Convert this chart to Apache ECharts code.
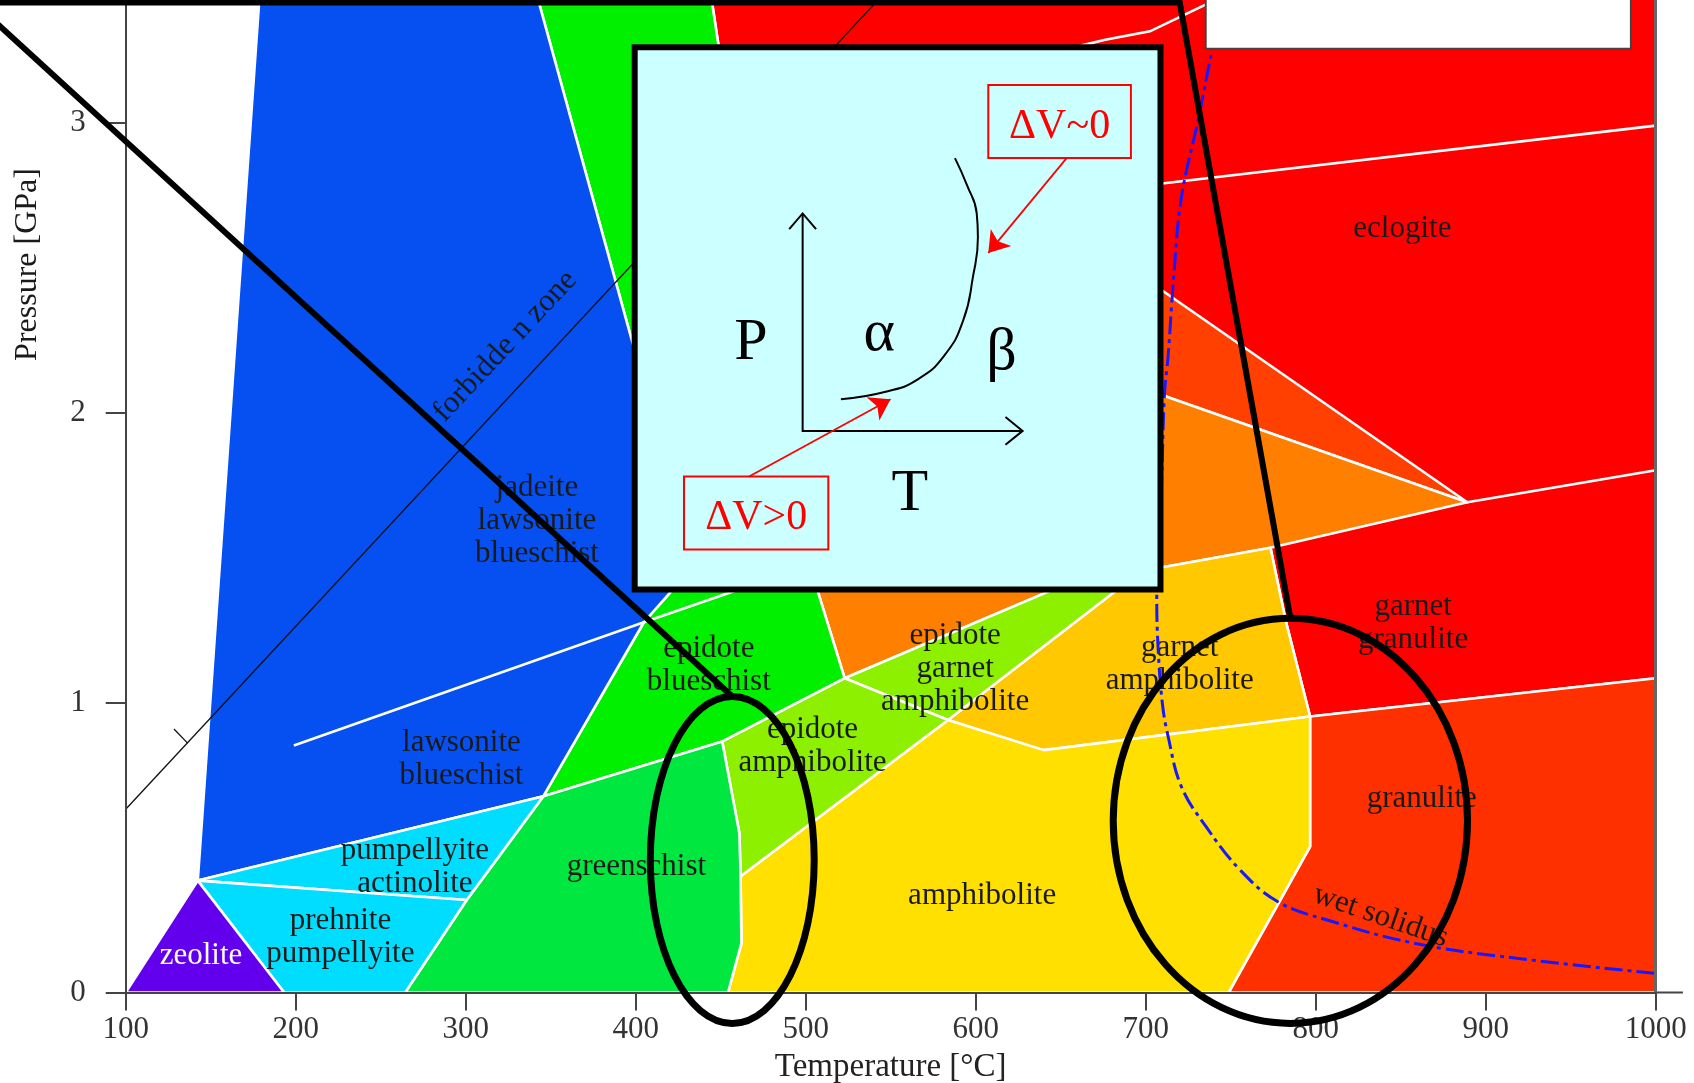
<!DOCTYPE html>
<html>
<head>
<meta charset="utf-8">
<title>Metamorphic facies</title>
<script src="https://cdn.jsdelivr.net/npm/echarts@6.0.0/dist/echarts.min.js"></script>
<style>
  html, body { margin: 0; padding: 0; background: #ffffff; }
  #chart { width: 1694px; height: 1083px; }
</style>
</head>
<body>
<div id="chart"></div>
<script>
const tempTicks = [100, 200, 300, 400, 500, 600, 700, 800, 900, 1000];
const pressureTicks = [0, 1, 2, 3];

// facies fields, every point is [temperature °C, pressure GPa]
const zeolite = [[100, 0], [142.4, 0.386], [193.2, 0]];
const prehnitePumpellyite = [[142.4, 0.386], [300.6, 0.319], [264.4, 0], [193.2, 0]];
const pumpellyiteActinolite = [[142.4, 0.386], [345.7, 0.677], [300.6, 0.319]];
const blueschist = [[178.9, 3.45], [341.4, 3.45], [397.7, 2.25], [432.8, 1.56], [420.1, 1.378], [404.8, 1.277], [345.7, 0.677], [142.4, 0.386]];
const greenTop = [[341.4, 3.45], [444.0, 3.45], [448.7, 3.267], [470.9, 2.306], [432.8, 1.56], [397.7, 2.25]];
const epidoteBlueschist = [[404.8, 1.277], [420.1, 1.378], [432.8, 1.56], [497.6, 1.56], [507.2, 1.382], [522.9, 1.084], [450.9, 0.866], [345.7, 0.677]];
const greenschist = [[264.4, 0], [300.6, 0.319], [345.7, 0.677], [450.9, 0.866], [461.0, 0.549], [461.7, 0.401], [462.2, 0.17], [454.3, 0]];
const epidoteAmphibolite = [[450.9, 0.866], [522.9, 1.084], [583.7, 0.94], [461.7, 0.401], [461.0, 0.549]];
const epidoteGarnetAmphibolite = [[522.9, 1.084], [684.2, 1.486], [704.6, 1.486], [583.7, 0.94]];
const orangeLow = [[497.6, 1.56], [507.2, 1.382], [522.9, 1.084], [684.2, 1.486], [684.2, 1.56]];
const amphibolite = [[454.3, 0], [462.2, 0.17], [461.7, 0.401], [583.7, 0.94], [640.0, 0.836], [796.7, 0.952], [796.7, 0.503], [748.8, 0]];
const garnetAmphibolite = [[583.7, 0.94], [704.6, 1.486], [709.9, 1.467], [773.4, 1.534], [782.3, 1.284], [796.7, 0.952], [640.0, 0.836]];
const eclogiteField = [[444.0, 3.45], [1000, 3.45], [1000, 1.084], [796.7, 0.952], [782.3, 1.284], [773.4, 1.534], [709.9, 1.467], [661.6, 1.416], [470.9, 2.306], [448.7, 3.267]];
const granulite = [[796.7, 0.952], [1000, 1.084], [1000, 0], [748.8, 0], [796.7, 0.503]];
const redOrangeWedge = [[661.6, 2.617], [889.2, 1.691], [661.6, 2.159]];
const orangeWedge = [[661.6, 2.159], [889.2, 1.691], [773.4, 1.534], [709.9, 1.467], [661.6, 1.416]];

// boundaries that end inside a field
const lawsoniteLine = [[198.9, 0.852], [404.8, 1.277], [470.9, 1.411]];
const eclogiteLine = [[693.4, 2.779], [1000, 2.99]];
const garnetGranuliteLine = [[889.2, 1.691], [1000, 1.801]];
const topRedLine = [[652.0, 3.252], [676.2, 3.286], [702.5, 3.315], [735.2, 3.407], [750.6, 3.456]];
const forbiddenLine = [[100, 0.632], [546.8, 3.45]];
const forbiddenTick = [[136.4, 0.86], [128.4, 0.909]];
const axisTail = [[1000, 0], [1016, 0]];

const wetSolidus = [
  [744.7, 3.42], [738.8, 3.246], [731.0, 3.014], [721.0, 2.742], [716.5, 2.469], [713.2, 2.196],
  [711.0, 2.06], [709.3, 1.747], [706.5, 1.366], [707.3, 1.188], [709.8, 0.997], [713.2, 0.883],
  [721.0, 0.71], [735.5, 0.572], [755.5, 0.423], [777.8, 0.313], [806.8, 0.25], [858.0, 0.17],
  [918.2, 0.118], [999.7, 0.066]
];

const faciesNames = [
  ['zeolite', 144.3, 0.128],
  ['prehnite\npumpellyite', 226.3, 0.19],
  ['pumpellyite\nactinolite', 270.1, 0.432],
  ['lawsonite\nblueschist', 297.5, 0.805],
  ['jadeite\nlawsonite\nblueschist', 341.9, 1.625],
  ['greenschist', 400.4, 0.432],
  ['epidote\nblueschist', 443.0, 1.129],
  ['epidote\namphibolite', 504.0, 0.848],
  ['epidote\ngarnet\namphibolite', 587.9, 1.116],
  ['amphibolite', 603.8, 0.335],
  ['garnet\namphibolite', 720.0, 1.133],
  ['garnet\ngranulite', 857.3, 1.273],
  ['granulite', 862.4, 0.667],
  ['eclogite', 851.0, 2.633]
];
const lineNames = [
  ['forbidde n zone', 323.2, 2.229, 0.817, 31],
  ['wet solidus', 838.2, 0.263, -0.33, 31],
  ['Pressure [GPa]', 42.0, 2.511, Math.PI / 2, 32]
];

// inset sketch of a P-T phase boundary
const insetBox = [[399.4, 3.26], [708.7, 1.39]];
const insetAxes = [[498.2, 2.687], [498.2, 1.937], [627.6, 1.937]];
const pArrowHead = [[490.3, 2.633], [498.2, 2.687], [506.1, 2.633]];
const tArrowHead = [[617.5, 1.985], [627.6, 1.937], [617.5, 1.889]];
const phaseBoundary = [[520.7, 2.046], [547.7, 2.073], [565.7, 2.114], [581.4, 2.196], [592.7, 2.319], [598.4, 2.469], [601.3, 2.605], [600.6, 2.687], [595.0, 2.783], [587.8, 2.878]];
const insetLetters = [['P', 467.8, 2.24], ['α', 543.2, 2.27], ['β', 615.2, 2.205], ['T', 561.2, 1.72]];
const volumeBoxes = [['ΔV~0', [607.4, 3.13], [691.3, 2.878]], ['ΔV>0', [428.4, 1.78], [513.3, 1.528]]];
const volumeArrows = [[[653.5, 2.878], [607.4, 2.551]], [[466.7, 1.78], [549.9, 2.046]]];
const blankBox = [[735.3, 3.255], [985.4, 3.45]];

// zoom callout drawn over the diagram
const calloutLines = [[[20, 3.365], [457.0, 1.02]], [[20, 3.415], [720.0, 3.415], [785.1, 1.291]]];
const calloutEllipses = [[456.8, 0.457, 48.2, 0.5636], [785.1, 0.592, 104.2, 0.6985]];

const regions = [
  { pts: eclogiteField, fill: '#ff0000' },
  { pts: redOrangeWedge, fill: '#ff4000' },
  { pts: orangeWedge, fill: '#ff8000' },
  { pts: granulite, fill: '#ff3000' },
  { pts: garnetAmphibolite, fill: '#ffc800' },
  { pts: amphibolite, fill: '#ffe000' },
  { pts: orangeLow, fill: '#ff8000' },
  { pts: epidoteGarnetAmphibolite, fill: '#8cf000' },
  { pts: epidoteAmphibolite, fill: '#8cf000' },
  { pts: epidoteBlueschist, fill: '#00f000' },
  { pts: greenschist, fill: '#00e840' },
  { pts: greenTop, fill: '#00f000' },
  { pts: blueschist, fill: '#0650f2' },
  { pts: pumpellyiteActinolite, fill: '#00ddff' },
  { pts: prehnitePumpellyite, fill: '#00ddff' },
  { pts: zeolite, fill: '#6200ee' }
];

const serif = '"Liberation Serif", "Times New Roman", serif';

function shapes(items, z, clip, build) {
  return {
    type: 'custom',
    coordinateSystem: 'cartesian2d',
    z: z,
    clip: clip,
    silent: true,
    data: items.map((_, i) => [i]),
    renderItem: (params, api) => build(items[params.dataIndex], api)
  };
}

function poly(pts, api) {
  return pts.map(p => api.coord(p));
}

function rectOf(a, b, api) {
  const p = api.coord(a), q = api.coord(b);
  return { x: Math.min(p[0], q[0]), y: Math.min(p[1], q[1]), width: Math.abs(q[0] - p[0]), height: Math.abs(q[1] - p[1]) };
}

const chart = echarts.init(document.getElementById('chart'));

const option = {
  animation: false,
  backgroundColor: '#ffffff',
  grid: { left: 125.7, right: 38.3, top: 0, bottom: 90.5, containLabel: false, outerBoundsMode: 'none' },
  xAxis: {
    type: 'value', min: 100, max: 1000, z: 4,
    name: 'Temperature [°C]', nameLocation: 'middle', nameGap: 56,
    nameTextStyle: { fontFamily: serif, fontSize: 33, color: '#222' },
    axisLine: { show: true, lineStyle: { color: '#444', width: 2 } },
    axisTick: { show: true, length: 18, customValues: tempTicks, lineStyle: { color: '#444', width: 2 } },
    axisLabel: { customValues: tempTicks, margin: 22, fontFamily: serif, fontSize: 31, color: '#333', formatter: v => String(v) },
    splitLine: { show: false }
  },
  yAxis: [{
    type: 'value', min: 0, max: 3.4232, z: 4,
    axisLine: { show: true, lineStyle: { color: '#444', width: 2 } },
    axisTick: { show: true, length: 20, customValues: pressureTicks, lineStyle: { color: '#444', width: 2 } },
    axisLabel: { customValues: pressureTicks, margin: 40, fontFamily: serif, fontSize: 31, color: '#333' },
    splitLine: { show: false }
  }, {
    type: 'value', min: 0, max: 3.4232, position: 'right', z: 4,
    axisLine: { show: true, lineStyle: { color: '#666', width: 3 } },
    axisTick: { show: false }, axisLabel: { show: false }, splitLine: { show: false }
  }],
  series: [
    shapes(regions, 1, true, (r, api) => ({
      type: 'polygon',
      shape: { points: poly(r.pts, api) },
      style: { fill: r.fill, stroke: '#ffffff', lineWidth: 2.6, lineJoin: 'round' }
    })),
    shapes([lawsoniteLine, eclogiteLine, garnetGranuliteLine, topRedLine], 2, true, (pts, api) => ({
      type: 'polyline',
      shape: { points: poly(pts, api) },
      style: { stroke: '#ffffff', lineWidth: 2.6, fill: null }
    })),
    shapes([forbiddenLine, forbiddenTick], 2, true, (pts, api) => ({
      type: 'polyline',
      shape: { points: poly(pts, api) },
      style: { stroke: '#111', lineWidth: 1.3, fill: null }
    })),
    shapes([axisTail], 4, false, (pts, api) => ({
      type: 'polyline',
      shape: { points: poly(pts, api) },
      style: { stroke: '#444', lineWidth: 2, fill: null }
    })),
    {
      type: 'line', z: 3, data: wetSolidus, smooth: 0.4, symbol: 'none', silent: true,
      lineStyle: { color: '#1818ff', width: 3, type: [18, 5, 4, 5] }
    },
    shapes(faciesNames, 3, false, (t, api) => {
      const c = api.coord([t[1], t[2]]);
      return {
        type: 'text', x: c[0], y: c[1],
        style: { text: t[0], fontFamily: serif, fontSize: 31, lineHeight: 33, fill: t[0] === 'zeolite' ? '#ffffff' : '#1a1a1a', align: 'center', verticalAlign: 'middle' }
      };
    }),
    shapes(lineNames, 3, false, (t, api) => {
      const c = api.coord([t[1], t[2]]);
      return {
        type: 'text', x: c[0], y: c[1], rotation: t[3],
        style: { text: t[0], fontFamily: serif, fontSize: t[4], fill: '#1a1a1a', align: 'center', verticalAlign: 'middle' }
      };
    }),
    shapes([blankBox], 5, true, (b, api) => ({
      type: 'rect', shape: rectOf(b[0], b[1], api),
      style: { fill: '#ffffff', stroke: '#444', lineWidth: 2 }
    })),
    shapes([insetBox], 5, false, (b, api) => ({
      type: 'rect', shape: rectOf(b[0], b[1], api),
      style: { fill: '#ccffff', stroke: '#000000', lineWidth: 6 }
    })),
    shapes([insetAxes, pArrowHead, tArrowHead], 6, false, (pts, api) => ({
      type: 'polyline',
      shape: { points: poly(pts, api) },
      style: { stroke: '#000', lineWidth: 2, fill: null }
    })),
    {
      type: 'line', z: 6, data: phaseBoundary, smooth: 0.5, symbol: 'none', silent: true,
      lineStyle: { color: '#000', width: 2 }
    },
    shapes(insetLetters, 6, false, (t, api) => {
      const c = api.coord([t[1], t[2]]);
      return {
        type: 'text', x: c[0], y: c[1],
        style: { text: t[0], fontFamily: serif, fontSize: 60, fill: '#000', align: 'center', verticalAlign: 'middle' }
      };
    }),
    shapes(volumeBoxes, 6, false, (b, api) => {
      const r = rectOf(b[1], b[2], api);
      return {
        type: 'group',
        children: [
          { type: 'rect', shape: r, style: { fill: null, stroke: '#ff0000', lineWidth: 2 } },
          { type: 'text', x: r.x + r.width / 2, y: r.y + r.height / 2 + 5,
            style: { text: b[0], fontFamily: serif, fontSize: 42, fill: '#ff0000', align: 'center', verticalAlign: 'middle' } }
        ]
      };
    }),
    {
      type: 'lines', coordinateSystem: 'cartesian2d', z: 6, silent: true,
      symbol: ['none', 'arrow'], symbolSize: [14, 20],
      lineStyle: { color: '#ff0000', width: 1.8, opacity: 1 },
      data: volumeArrows.map(c => ({ coords: c }))
    },
    shapes(calloutLines, 8, false, (pts, api) => ({
      type: 'polyline',
      shape: { points: poly(pts, api) },
      style: { stroke: '#000', lineWidth: 6, fill: null, lineJoin: 'miter' }
    })),
    shapes(calloutEllipses, 8, false, (e, api) => {
      const c = api.coord([e[0], e[1]]);
      const s = api.size([e[2], e[3]]);
      return {
        type: 'ellipse',
        shape: { cx: c[0], cy: c[1], rx: s[0], ry: s[1] },
        style: { fill: null, stroke: '#000', lineWidth: 7 }
      };
    })
  ]
};

chart.setOption(option);
</script>
</body>
</html>
